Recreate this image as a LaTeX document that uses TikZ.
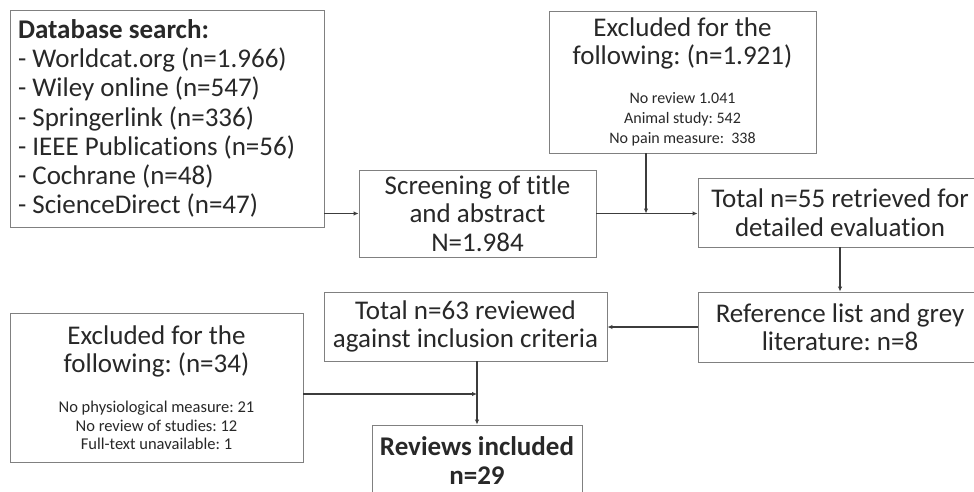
\documentclass[tikz,border=0pt]{standalone}
\usepackage{fontspec}
\setmainfont{Carlito}[Ligatures=NoCommon]
\usetikzlibrary{arrows.meta}
\definecolor{boxline}{RGB}{128,128,128}
\definecolor{linkline}{RGB}{60,60,60}
\definecolor{txt}{RGB}{40,40,40}
\newcommand\mainsz{\fontsize{27}{28.5}\selectfont}
\newcommand\dbsz{\fontsize{27}{29.3}\selectfont}
\newcommand\exsmall{\fontsize{16}{20}\selectfont}
\newcommand\exsmaller{\fontsize{16.5}{18.3}\selectfont}
\frenchspacing
\tikzset{
  box/.style={draw=boxline, line width=0.9pt, fill=white, text=txt,
    inner sep=0pt, align=center, font=\mainsz},
  link/.style={draw=linkline, line width=1.2pt,
    -{Latex[length=5pt,width=4.5pt]}}
}
\begin{document}
\begin{tikzpicture}[x=1pt,y=-1pt]
  \useasboundingbox (0,0) rectangle (974,492);
  \clip (0,0) rectangle (974,492);
  \fill[white] (0,0) rectangle (974,492);

  % search sources
  \node[box, align=flush left, font=\dbsz, text width=298pt, inner xsep=8pt,
        minimum height=217pt] (db) at (167,118.5)
    {\textbf{Database search:}\\
     - Worldcat.org (n=1.966)\\
     - Wiley online (n=547)\\
     - Springerlink (n=336)\\
     - IEEE Publications (n=56)\\
     - Cochrane (n=48)\\
     - ScienceDirect (n=47)};

  % screening stage
  \node[box, minimum width=237pt, minimum height=87pt] (scr) at (477.5,213.5)
    {Screening of title\\and abstract\\N=1.984};

  \node[box, align=flush center, text width=251pt, inner xsep=8pt, minimum height=142pt] (exc1) at (682.5,82)
    {Excluded for the\\following: (n=1.921)\par\vspace{19pt}
     \exsmall No review 1.041\\Animal study: 542\\No pain measure:\ \ 338\par};

  \node[box, minimum width=284pt, minimum height=69pt] (tot55) at (840,212.5)
    {Total n=55 retrieved for\\detailed evaluation};

  \node[box, minimum width=284pt, minimum height=70pt] (ref) at (840,327)
    {Reference list and grey\\literature: n=8};

  \node[box, minimum width=283pt, minimum height=69pt] (tot63) at (465.5,326.5)
    {Total n=63 reviewed\\against inclusion criteria};

  \node[box, align=flush center, text width=277pt, inner xsep=8pt, minimum height=149pt] (exc34) at (156.5,387.5)
    {Excluded for the\\following: (n=34)\par\vspace{22pt}
     \exsmaller No physiological measure: 21\\No review of studies: 12\\Full-text unavailable: 1\par};

  \node[box, font=\mainsz\bfseries, minimum width=210pt, minimum height=71pt] (rev) at (477,460.5)
    {Reviews included\\n=29};

  % junctions on the main flow
  \coordinate (j1) at (646,213.5);
  \coordinate (j2) at (477,394);

  \draw[link] (db.east |- scr.west) -- (scr.west);
  \draw[link] (scr.east) -- (scr.east -| tot55.west);
  \draw[link] (exc1.south -| j1) -- (j1);
  \draw[link] (tot55.south) -- (tot55.south |- ref.north);
  \draw[link] (ref.west) -- (ref.west -| tot63.east);
  \draw[link] (rev.north |- tot63.south) -- (rev.north);
  \draw[link] (exc34.east |- j2) -- (j2);
\end{tikzpicture}
\end{document}
